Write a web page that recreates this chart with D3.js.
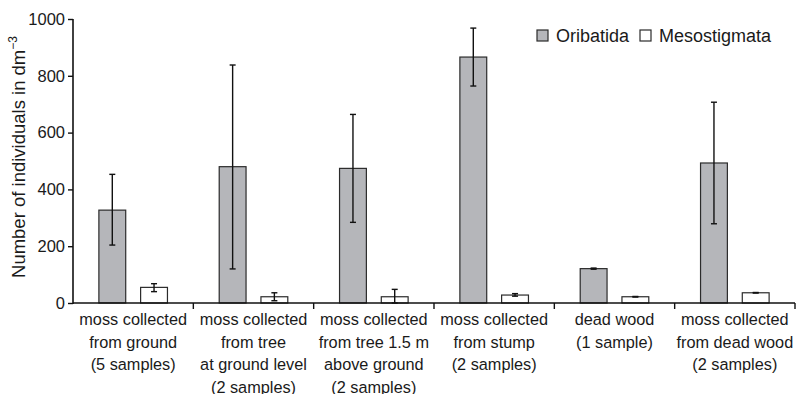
<!DOCTYPE html>
<html>
<head>
<meta charset="utf-8">
<script src="https://cdn.jsdelivr.net/npm/d3@7"></script>
<style>
  body { margin: 0; background: #fff; }
  svg { display: block; font-family: "Liberation Sans", Arial, sans-serif; }
</style>
</head>
<body>
<div id="chart"></div>
<script>
// habitat categories (multi-line labels)
const categories = [
    ['moss collected', 'from ground', '(5 samples)'],
    ['moss collected', 'from tree', 'at ground level', '(2 samples)'],
    ['moss collected', 'from tree 1.5 m', 'above ground', '(2 samples)'],
    ['moss collected', 'from stump', '(2 samples)'],
    ['dead wood', '(1 sample)'],
    ['moss collected', 'from dead wood', '(2 samples)']
];
const seriesNames = ['Oribatida', 'Mesostigmata'];

// mean values and error bar ends [low, high]
const oribatida = [327, 480, 474, 866, 121, 493];
const oribatidaErr = [[204, 453], [120, 838], [284, 664], [764, 968], [119, 123], [279, 707]];
const mesostigmata = [55, 22, 22, 28, 22, 36];
const mesostigmataErr = [[40, 68], [8, 36], [0, 48], [24, 33], [21, 23], [35, 37]];
const yTicks = [0, 200, 400, 600, 800, 1000];

const W = 798, H = 394;
const margin = { left: 73, right: 3, top: 19, bottom: 91 };
const FONT = '"Liberation Sans", Arial, sans-serif';
const TEXT = '#1a1a1a';

const svg = d3.select('#chart').append('svg')
    .attr('width', W)
    .attr('height', H);

const x = d3.scaleBand()
    .domain(d3.range(categories.length))
    .range([margin.left, W - margin.right])
    .paddingInner(0)
    .paddingOuter(0);

const xSub = d3.scaleBand()
    .domain(seriesNames)
    .range([0, x.bandwidth()])
    .paddingInner(0.357)
    .paddingOuter(0.62);

const y = d3.scaleLinear()
    .domain([0, 1000])
    .range([H - margin.bottom, margin.top]);

const colors = { Oribatida: '#b5b6ba', Mesostigmata: '#ffffff' };

const data = categories.map((c, i) => ({
    i,
    values: [
        { key: 'Oribatida', v: oribatida[i], err: oribatidaErr[i] },
        { key: 'Mesostigmata', v: mesostigmata[i], err: mesostigmataErr[i] }
    ]
}));

// bars
const groups = svg.append('g').selectAll('g')
    .data(data)
    .join('g')
    .attr('transform', d => `translate(${x(d.i)},0)`);

groups.selectAll('rect')
    .data(d => d.values)
    .join('rect')
    .attr('x', d => xSub(d.key))
    .attr('y', d => y(d.v))
    .attr('width', xSub.bandwidth())
    .attr('height', d => y(0) - y(d.v))
    .attr('fill', d => colors[d.key])
    .attr('stroke', '#2b2b2b')
    .attr('stroke-width', 1.2);

// error bars
const err = groups.selectAll('g.err')
    .data(d => d.values)
    .join('g')
    .attr('class', 'err')
    .attr('transform', d => `translate(${xSub(d.key) + xSub.bandwidth() / 2},0)`)
    .attr('stroke', '#111')
    .attr('stroke-width', 1.4);

err.append('line')
    .attr('y1', d => y(d.err[0]))
    .attr('y2', d => y(d.err[1]));
err.append('line')
    .attr('x1', -3).attr('x2', 3)
    .attr('y1', d => y(d.err[1])).attr('y2', d => y(d.err[1]));
err.append('line')
    .attr('x1', -3).attr('x2', 3)
    .attr('y1', d => y(d.err[0])).attr('y2', d => y(d.err[0]));

// y axis
const yAxis = svg.append('g')
    .attr('transform', `translate(${margin.left},0)`)
    .call(d3.axisLeft(y).tickValues(yTicks).tickFormat(d3.format('d')).tickSize(5).tickPadding(3))
    .attr('font-family', FONT);
yAxis.select('.domain').attr('stroke', '#111').attr('stroke-width', 1.6)
    .attr('d', `M0,${y(1000)}V${y(0) + 1}`);
yAxis.selectAll('.tick line').attr('stroke', '#111').attr('stroke-width', 1.4);
yAxis.selectAll('.tick text')
    .attr('fill', TEXT)
    .style('font-size', '16.5px');

// x axis: separators between groups
const xAxis = svg.append('g')
    .attr('transform', `translate(0,${y(0)})`);
xAxis.append('line')
    .attr('x1', margin.left).attr('x2', W - margin.right)
    .attr('stroke', '#111').attr('stroke-width', 1.6);
xAxis.selectAll('line.sep')
    .data(d3.range(1, categories.length + 1))
    .join('line')
    .attr('class', 'sep')
    .attr('x1', d => x(d - 1) + x.bandwidth())
    .attr('x2', d => x(d - 1) + x.bandwidth())
    .attr('y1', 0).attr('y2', 6)
    .attr('stroke', '#111').attr('stroke-width', 1.4);

const labels = xAxis.selectAll('text.cat')
    .data(data)
    .join('text')
    .attr('class', 'cat')
    .attr('x', d => x(d.i) + x.bandwidth() / 2)
    .attr('text-anchor', 'middle')
    .attr('fill', TEXT)
    .style('font-size', '16.3px');
labels.selectAll('tspan')
    .data(d => categories[d.i])
    .join('tspan')
    .attr('x', function () { return d3.select(this.parentNode).attr('x'); })
    .attr('y', (d, j) => 22 + j * 22.5)
    .text(d => d);

// y axis title
svg.append('text')
    .attr('transform', `translate(25,157) rotate(-90)`)
    .attr('text-anchor', 'middle')
    .attr('fill', TEXT)
    .style('font-size', '18.5px')
    .call(t => {
        t.append('tspan').text('Number of individuals in dm');
        t.append('tspan').attr('dy', -8).style('font-size', '12px').text('−3');
    });

// legend
const legend = svg.append('g').attr('transform', 'translate(537,30)');
const legendX = [0, 103];
const li = legend.selectAll('g')
    .data(seriesNames)
    .join('g')
    .attr('transform', (d, i) => `translate(${legendX[i]},0)`);
li.append('rect')
    .attr('width', 11).attr('height', 11)
    .attr('fill', d => colors[d])
    .attr('stroke', '#2b2b2b')
    .attr('stroke-width', 1.2);
li.append('text')
    .attr('x', 19).attr('y', 11.5)
    .attr('fill', TEXT)
    .style('font-size', '18px')
    .text(d => d);
</script>
</body>
</html>
